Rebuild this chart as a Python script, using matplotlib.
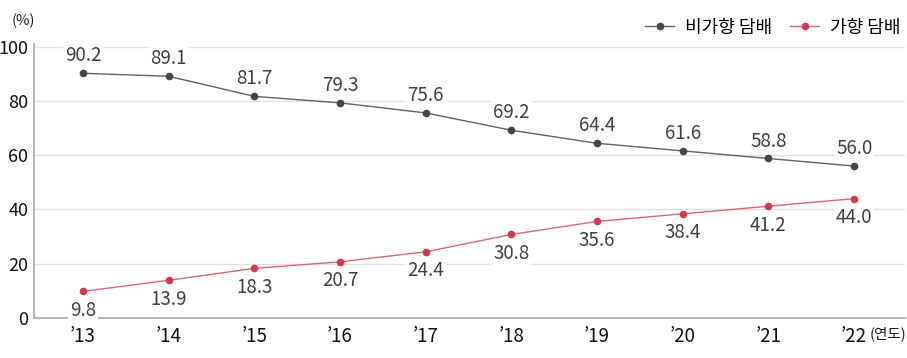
import matplotlib
matplotlib.use("Agg")
import matplotlib.pyplot as plt

plt.rcParams['font.family'] = ['Noto Sans CJK KR', 'DejaVu Sans']

years = ["’13", "’14", "’15", "’16", "’17", "’18", "’19", "’20", "’21", "’22"]
non_flavored = [90.2, 89.1, 81.7, 79.3, 75.6, 69.2, 64.4, 61.6, 58.8, 56.0]
flavored = [9.8, 13.9, 18.3, 20.7, 24.4, 30.8, 35.6, 38.4, 41.2, 44.0]
yticks = [0, 20, 40, 60, 80, 100]
series_names = ["비가향 담배", "가향 담배"]

W, H = 907, 358
fig = plt.figure(figsize=(W / 100, H / 100), dpi=100)
ax = fig.add_axes([34 / W, (H - 318) / H, (905 - 34) / W, (318 - 44) / H])

x = list(range(len(years)))
gray = '#4a4542'
red = '#d23a4f'
ax.plot(x, non_flavored, color='#666060', lw=1.0, marker='o', ms=4.5,
        mfc=gray, mec=gray, label=series_names[0], zorder=3)
ax.plot(x, flavored, color='#dd6677', lw=1.0, marker='o', ms=4.5,
        mfc=red, mec=red, label=series_names[1], zorder=3)

for xi, v in zip(x, non_flavored):
    ax.annotate(f"{v:.1f}", (xi, v), xytext=(0, 5), textcoords='offset points',
                ha='center', va='bottom', fontsize=13.5, color='#444040',
                bbox=dict(boxstyle='square,pad=0.1', fc='white', ec='none'), zorder=4)
for xi, v in zip(x, flavored):
    ax.annotate(f"{v:.1f}", (xi, v), xytext=(0, -6), textcoords='offset points',
                ha='center', va='top', fontsize=13.5, color='#444040',
                bbox=dict(boxstyle='square,pad=0.1', fc='white', ec='none'), zorder=4)

ax.set_xlim(-0.572, 9.594)
ax.set_ylim(0, 101)
ax.set_yticks(yticks)
ax.set_yticklabels([str(t) for t in yticks], fontsize=13, color='#111111')
ax.set_xticks(x)
ax.set_xticklabels(years, fontsize=13.5, color='#111111')
ax.tick_params(length=0, axis='y', pad=4)
ax.tick_params(length=0, axis='x', pad=6)
ax.grid(axis='y', color='#e2e2e2', lw=1)
ax.set_axisbelow(True)
for s in ['top', 'right']:
    ax.spines[s].set_visible(False)
for s in ['left', 'bottom']:
    ax.spines[s].set_color('#aaaaaa')
    ax.spines[s].set_linewidth(1.2)

fig.text(12 / W, 1 - 21 / H, "(%)", fontsize=10.5, color='#222222', va='center', ha='left')
fig.text(906 / W, 1 - 334 / H, "(연도)", fontsize=10.5, color='#222222', va='center', ha='right')

leg = ax.legend(loc='lower right', bbox_to_anchor=(1.003, 1.0), ncol=2, frameon=False,
                fontsize=13, handlelength=1.6, columnspacing=1.0, handletextpad=0.6,
                borderaxespad=0.3, borderpad=0.1)

fig.savefig("out.png", dpi=100)
